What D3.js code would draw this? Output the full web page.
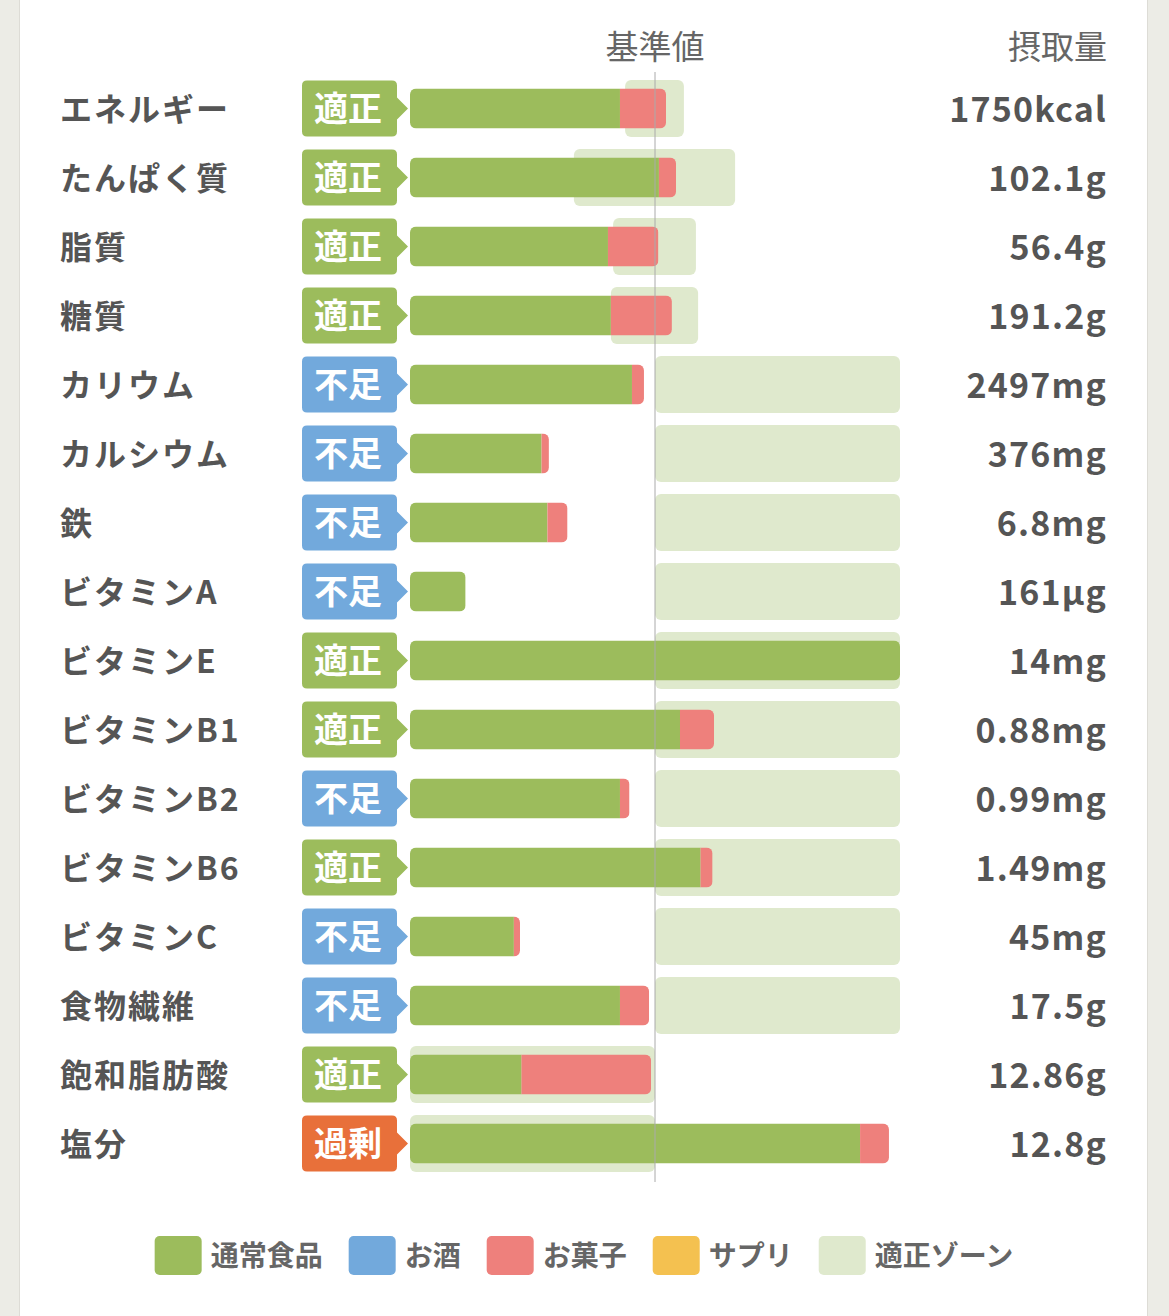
<!DOCTYPE html>
<html>
<head>
<meta charset="utf-8">
<script src="https://cdn.jsdelivr.net/npm/d3@7"></script>
<style>
  body { margin: 0; background: #ecece6; }
  svg text { font-family: "Noto Sans CJK JP", "Noto Sans", sans-serif; }
</style>
</head>
<body>
<div id="chart"></div>
<script>
// nutrient rows, top to bottom
var nutrients = ["エネルギー", "たんぱく質", "脂質", "糖質", "カリウム", "カルシウム", "鉄",
  "ビタミンA", "ビタミンE", "ビタミンB1", "ビタミンB2", "ビタミンB6", "ビタミンC",
  "食物繊維", "飽和脂肪酸", "塩分"];
var judgement = ["適正", "適正", "適正", "適正", "不足", "不足", "不足",
  "不足", "適正", "適正", "不足", "適正", "不足",
  "不足", "適正", "過剰"];
// share of the standard value (%), per source
var foodPct  = [85.7, 101.6, 80.8, 82.0, 90.6, 53.7, 56.1, 22.7, 200, 110.2, 85.7, 118.6, 42.4, 85.7, 45.5, 183.7];
var snackPct = [18.8, 7.0, 20.6, 24.9, 4.9, 3.0, 8.2, 0, 0, 13.9, 3.9, 4.9, 2.5, 11.9, 52.9, 11.8];
// proper zone (% of standard)
var zoneLow  = [87.8, 66.9, 82.9, 82.0, 100, 100, 100, 100, 100, 100, 100, 100, 100, 100, 0, 0];
var zoneHigh = [111.8, 132.7, 116.7, 117.6, 200, 200, 200, 200, 200, 200, 200, 200, 200, 200, 100, 100];
var intake = ["1750kcal", "102.1g", "56.4g", "191.2g", "2497mg", "376mg", "6.8mg", "161µg",
  "14mg", "0.88mg", "0.99mg", "1.49mg", "45mg", "17.5g", "12.86g", "12.8g"];
var legendLabels = ["通常食品", "お酒", "お菓子", "サプリ", "適正ゾーン"];

var colors = {
  "通常食品": "#9cbc5c", "お酒": "#72a9dc", "お菓子": "#ee807c",
  "サプリ": "#f4c150", "適正ゾーン": "#dfe9cd"
};
var badgeColors = { "適正": "#9cbc5c", "不足": "#72a9dc", "過剰": "#e8703a" };

var W = 1169, H = 1316;

var svg = d3.select("#chart").append("svg")
    .attr("width", W)
    .attr("height", H);

// white panel
svg.append("rect")
    .attr("x", 19).attr("y", 0).attr("width", 1129).attr("height", H)
    .attr("fill", "#dddcd6");
svg.append("rect")
    .attr("x", 20).attr("y", 0).attr("width", 1127).attr("height", H)
    .attr("fill", "#fff");

var x = d3.scaleLinear().domain([0, 200]).range([410, 900]);
var y = d3.scaleBand().domain(nutrients).range([74, 1178]);
var cy = function(d) { return y(d) + y.bandwidth() / 2; };

var rows = nutrients.map(function(n, i) {
  return { name: n, judge: judgement[i], food: foodPct[i], snack: snackPct[i],
           lo: zoneLow[i], hi: zoneHigh[i], value: intake[i] };
});

// headers
svg.append("text")
    .attr("x", x(100)).attr("y", 45)
    .attr("text-anchor", "middle").attr("dominant-baseline", "central")
    .attr("font-size", 33).attr("fill", "#666")
    .text("基準値");
svg.append("text")
    .attr("x", 1107).attr("y", 45)
    .attr("text-anchor", "end").attr("dominant-baseline", "central")
    .attr("font-size", 33).attr("fill", "#666")
    .text("摂取量");

var defs = svg.append("defs");

var row = svg.selectAll("g.row")
    .data(rows)
  .enter().append("g")
    .attr("class", "row");

// nutrient names
row.append("text")
    .attr("x", 60).attr("y", function(d) { return cy(d.name) - 2; })
    .attr("dominant-baseline", "central")
    .attr("font-size", 32).attr("font-weight", 700).attr("fill", "#555")
    .attr("letter-spacing", 2)
    .text(function(d) { return d.name; });

// judgement badges
row.append("path")
    .attr("d", function(d) {
      var c = cy(d.name), t = c - 28, b = c + 28, l = 302, r = 397, rr = 5;
      return "M" + (l + rr) + "," + t + "H" + (r - rr) + "Q" + r + "," + t + " " + r + "," + (t + rr)
        + "V" + (c - 11) + "L408," + c + "L" + r + "," + (c + 11)
        + "V" + (b - rr) + "Q" + r + "," + b + " " + (r - rr) + "," + b
        + "H" + (l + rr) + "Q" + l + "," + b + " " + l + "," + (b - rr)
        + "V" + (t + rr) + "Q" + l + "," + t + " " + (l + rr) + "," + t + "Z";
    })
    .attr("fill", function(d) { return badgeColors[d.judge]; });
row.append("text")
    .attr("x", 348).attr("y", function(d) { return cy(d.name) - 2; })
    .attr("text-anchor", "middle").attr("dominant-baseline", "central")
    .attr("font-size", 34).attr("font-weight", 700).attr("fill", "#fff")
    .text(function(d) { return d.judge; });

// proper zone
row.append("rect")
    .attr("x", function(d) { return x(d.lo); })
    .attr("y", function(d) { return cy(d.name) - 28.5; })
    .attr("width", function(d) { return x(d.hi) - x(d.lo); })
    .attr("height", 57)
    .attr("rx", 6)
    .attr("fill", colors["適正ゾーン"]);

// stacked bars, clipped to a rounded outline
row.each(function(d, i) {
  var g = d3.select(this);
  var total = Math.min(200, d.food + d.snack);
  defs.append("clipPath").attr("id", "clip" + i)
    .append("rect")
      .attr("x", x(0)).attr("y", cy(d.name) - 20)
      .attr("width", x(total) - x(0)).attr("height", 40)
      .attr("rx", 6);
  var bars = g.append("g").attr("clip-path", "url(#clip" + i + ")");
  bars.append("rect")
      .attr("x", x(0)).attr("y", cy(d.name) - 20)
      .attr("width", x(d.food) - x(0)).attr("height", 40)
      .attr("fill", colors["通常食品"]);
  if (d.snack > 0) {
    bars.append("rect")
        .attr("x", x(d.food)).attr("y", cy(d.name) - 20)
        .attr("width", x(total) - x(d.food)).attr("height", 40)
        .attr("fill", colors["お菓子"]);
  }
});

// intake values
row.append("text")
    .attr("x", 1107).attr("y", function(d) { return cy(d.name) - 1; })
    .attr("text-anchor", "end").attr("dominant-baseline", "central")
    .attr("font-size", 34).attr("font-weight", 700).attr("fill", "#555")
    .attr("letter-spacing", 1.2)
    .text(function(d) { return d.value; });

// standard value line
svg.append("line")
    .attr("x1", x(100)).attr("x2", x(100))
    .attr("y1", 72).attr("y2", 1182)
    .attr("stroke", "#aaa").attr("stroke-width", 1);

// legend
var legend = svg.append("g");
var lx = 0;
legendLabels.forEach(function(l) {
  var item = legend.append("g").attr("transform", "translate(" + lx + ",0)");
  item.append("rect")
      .attr("x", 0).attr("y", 1236).attr("width", 47).attr("height", 39).attr("rx", 5)
      .attr("fill", colors[l]);
  var t = item.append("text")
      .attr("x", 56).attr("y", 1254)
      .attr("dominant-baseline", "central")
      .attr("font-size", 28).attr("font-weight", 700).attr("fill", "#666")
      .text(l);
  lx += 56 + t.node().getComputedTextLength() + 26;
});
var lw = lx - 26;
legend.attr("transform", "translate(" + (584 - lw / 2) + ",0)");
</script>
</body>
</html>
